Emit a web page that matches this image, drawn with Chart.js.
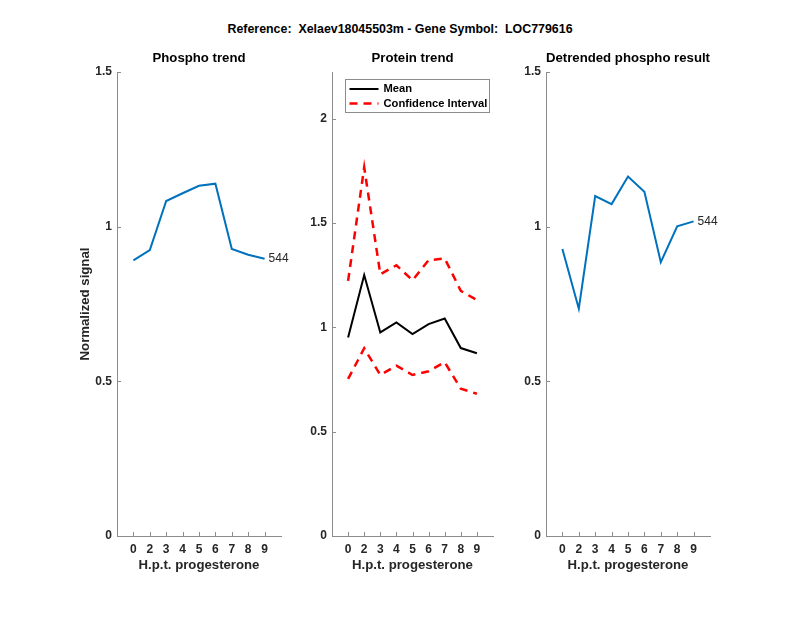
<!DOCTYPE html>
<html>
<head>
<meta charset="utf-8">
<script src="https://cdn.jsdelivr.net/npm/chart.js@4.4.0/dist/chart.umd.min.js"></script>
<style>
  body { margin: 0; background: #fff; }
  #wrap { position: relative; width: 800px; height: 618px; }
  #wrap canvas { position: absolute; left: 0; top: 0; }
  #title {
    position: absolute; top: 22px; left: 0; width: 800px; line-height: 16px;
    text-align: center; white-space: pre; color: #000;
    font: bold 12.4px "Liberation Sans", Arial, sans-serif;
  }
</style>
</head>
<body>
<div id="wrap">
  <div id="title">Reference:  Xelaev18045503m - Gene Symbol:  LOC779616</div>
  <canvas id="phospho" width="800" height="618"></canvas>
  <canvas id="protein" width="800" height="618"></canvas>
  <canvas id="detrended" width="800" height="618"></canvas>
</div>
<script>
// hours post treatment (tick labels) and values
const hpt = ['0', '2', '3', '4', '5', '6', '7', '8', '9'];
const phosphoTrend = [0.891, 0.924, 1.083, 1.108, 1.132, 1.139, 0.928, 0.909, 0.896];
const proteinMean = [0.952, 1.251, 0.976, 1.024, 0.968, 1.016, 1.043, 0.901, 0.876];
const proteinUpper = [1.223, 1.767, 1.255, 1.298, 1.226, 1.322, 1.331, 1.175, 1.131];
const proteinLower = [0.753, 0.900, 0.772, 0.817, 0.772, 0.790, 0.833, 0.706, 0.682];
const detrended = [0.928, 0.735, 1.099, 1.073, 1.162, 1.113, 0.885, 1.001, 1.017];
const peptideId = '544';
const phosphoTicks = [0, 0.5, 1, 1.5];
const proteinTicks = [0, 0.5, 1, 1.5, 2];
const proteinMax = 2.2245;

const FONT = '"Liberation Sans", Arial, sans-serif';
const axisGray = '#8c8c8c';
const textDark = '#262626';
const blue = '#0072BD';

const pts = arr => arr.map((v, i) => ({ x: i + 1, y: v }));

// MATLAB-ish inward ticks, legend box and end-of-line label
const matlabAxes = {
  id: 'matlabAxes',
  afterDraw(chart, args, opts) {
    const { ctx, chartArea: a, scales: { x, y } } = chart;
    ctx.save();
    ctx.strokeStyle = axisGray;
    ctx.lineWidth = 1;
    ctx.beginPath();
    x.ticks.forEach(t => {
      const px = Math.round(x.getPixelForValue(t.value)) + 0.5;
      ctx.moveTo(px, a.bottom);
      ctx.lineTo(px, a.bottom - 4);
    });
    y.ticks.forEach(t => {
      const py = Math.round(y.getPixelForValue(t.value)) + 0.5;
      ctx.moveTo(a.left, py);
      ctx.lineTo(a.left + 4, py);
    });
    ctx.stroke();

    if (opts.note) {
      const meta = chart.getDatasetMeta(0);
      const last = meta.data[meta.data.length - 1];
      ctx.fillStyle = textDark;
      ctx.font = '12px ' + FONT;
      ctx.textBaseline = 'middle';
      ctx.textAlign = 'left';
      ctx.fillText(opts.note, last.x + 4, last.y);
    }

    if (opts.legend) {
      const bx = a.left + 13.5, by = a.top + 7.5, bw = 144, bh = 33;
      ctx.fillStyle = '#fff';
      ctx.fillRect(bx, by, bw, bh);
      ctx.strokeStyle = axisGray;
      ctx.strokeRect(bx, by, bw, bh);
      const items = chart.data.datasets.filter(d => d.label);
      items.forEach((d, i) => {
        const ry = by + 9.5 + i * 14.5;
        ctx.strokeStyle = d.borderColor;
        ctx.lineWidth = d.borderWidth;
        ctx.setLineDash(d.borderDash || []);
        ctx.beginPath();
        ctx.moveTo(bx + 4, ry);
        ctx.lineTo(bx + 33, ry);
        ctx.stroke();
        ctx.setLineDash([]);
        ctx.fillStyle = '#000';
        ctx.font = 'bold 11.2px ' + FONT;
        ctx.textBaseline = 'middle';
        ctx.fillText(d.label, bx + 38, ry);
      });
    }
    ctx.restore();
  }
};

function makePanel(id, area, title, datasets, yMax, yTicks, yTitle, extra) {
  const yw = 40, xh = 37;
  return new Chart(document.getElementById(id), {
    type: 'line',
    data: { datasets },
    plugins: [matlabAxes],
    options: {
      responsive: false,
      animation: false,
      devicePixelRatio: 1,
      events: [],
      layout: {
        padding: { left: area.left - yw, right: 800 - area.right, top: 40, bottom: 618 - 536 - xh }
      },
      elements: { point: { radius: 0 }, line: { tension: 0 } },
      plugins: {
        legend: { display: false },
        tooltip: { enabled: false },
        title: {
          display: true, text: title, fullSize: false, color: '#000',
          font: { family: FONT, size: 13.2, weight: 'bold' },
          padding: { top: 10.08, bottom: 6.08 }
        },
        matlabAxes: extra
      },
      scales: {
        x: {
          type: 'linear', min: 0, max: 10,
          afterFit: s => { s.height = xh; },
          afterBuildTicks: s => { s.ticks = hpt.map((_, i) => ({ value: i + 1 })); },
          grid: { display: false, drawTicks: false, tickLength: 0 },
          border: { color: axisGray, width: 1 },
          ticks: {
            autoSkip: false, maxRotation: 0, padding: 6, color: textDark,
            font: { family: FONT, size: 12, weight: 'bold' },
            callback: (v, i) => hpt[i]
          },
          title: {
            display: true, text: 'H.p.t. progesterone', color: textDark, padding: 0,
            font: { family: FONT, size: 13.2, weight: 'bold' }
          }
        },
        y: {
          min: 0, max: yMax,
          afterFit: s => { s.width = yw; },
          afterBuildTicks: s => { s.ticks = yTicks.map(v => ({ value: v })); },
          grid: { display: false, drawTicks: false, tickLength: 0 },
          border: { color: axisGray, width: 1 },
          ticks: {
            padding: 5, color: textDark,
            font: { family: FONT, size: 12, weight: 'bold' },
            callback: v => String(v)
          },
          title: {
            display: !!yTitle, text: yTitle || '', color: textDark, padding: 0,
            font: { family: FONT, size: 13.2, weight: 'bold' }
          }
        }
      }
    }
  });
}

makePanel('phospho', { left: 117, right: 281 }, 'Phospho trend',
  [{ label: '', data: pts(phosphoTrend), borderColor: blue, borderWidth: 2 }],
  1.5, phosphoTicks, 'Normalized signal', { note: peptideId });

makePanel('protein', { left: 332, right: 493 }, 'Protein trend',
  [
    { label: 'Mean', data: pts(proteinMean), borderColor: '#000', borderWidth: 2 },
    { label: 'Confidence Interval', data: pts(proteinUpper), borderColor: '#ff0000', borderWidth: 2.5, borderDash: [8, 6] },
    { label: '', data: pts(proteinLower), borderColor: '#ff0000', borderWidth: 2.5, borderDash: [8, 6] }
  ],
  proteinMax, proteinTicks, '', { legend: true });

makePanel('detrended', { left: 546, right: 710 }, 'Detrended phospho result',
  [{ label: '', data: pts(detrended), borderColor: blue, borderWidth: 2 }],
  1.5, phosphoTicks, '', { note: peptideId });
</script>
</body>
</html>
